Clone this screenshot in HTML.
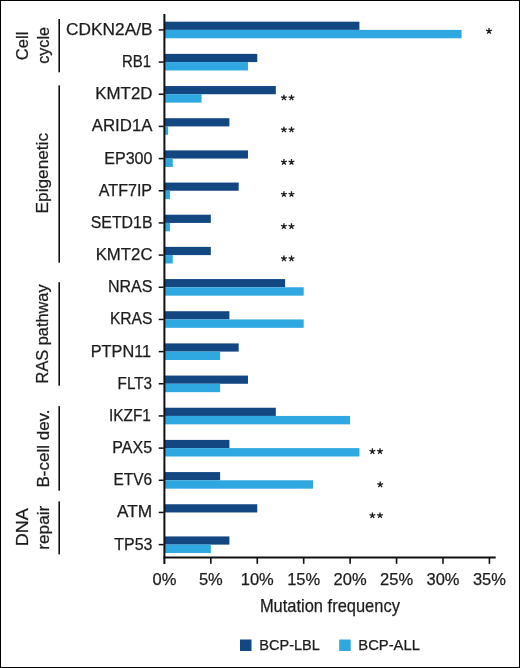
<!DOCTYPE html><html><head><meta charset="utf-8"><style>html,body{margin:0;padding:0;background:#fff;}svg{display:block;will-change:transform;}text{font-family:"Liberation Sans",sans-serif;fill:#1c1c1c;stroke:#1c1c1c;stroke-width:0.25px;}</style></head><body>
<svg width="520" height="668" viewBox="0 0 520 668">
<rect x="0" y="0" width="520" height="668" fill="#fff"/>
<rect x="164.40" y="21.70" width="195.01" height="8.20" fill="#134782"/>
<rect x="164.40" y="29.90" width="297.15" height="8.40" fill="#2fa8e1"/>
<rect x="164.40" y="53.87" width="92.86" height="8.20" fill="#134782"/>
<rect x="164.40" y="62.07" width="83.57" height="8.40" fill="#2fa8e1"/>
<rect x="164.40" y="86.04" width="111.43" height="8.20" fill="#134782"/>
<rect x="164.40" y="94.24" width="37.14" height="8.40" fill="#2fa8e1"/>
<rect x="164.40" y="118.21" width="65.00" height="8.20" fill="#134782"/>
<rect x="164.40" y="126.41" width="3.71" height="8.40" fill="#2fa8e1"/>
<rect x="164.40" y="150.38" width="83.57" height="8.20" fill="#134782"/>
<rect x="164.40" y="158.58" width="8.36" height="8.40" fill="#2fa8e1"/>
<rect x="164.40" y="182.55" width="74.29" height="8.20" fill="#134782"/>
<rect x="164.40" y="190.75" width="5.57" height="8.40" fill="#2fa8e1"/>
<rect x="164.40" y="214.72" width="46.43" height="8.20" fill="#134782"/>
<rect x="164.40" y="222.92" width="5.57" height="8.40" fill="#2fa8e1"/>
<rect x="164.40" y="246.89" width="46.43" height="8.20" fill="#134782"/>
<rect x="164.40" y="255.09" width="8.36" height="8.40" fill="#2fa8e1"/>
<rect x="164.40" y="279.06" width="120.72" height="8.20" fill="#134782"/>
<rect x="164.40" y="287.26" width="139.29" height="8.40" fill="#2fa8e1"/>
<rect x="164.40" y="311.23" width="65.00" height="8.20" fill="#134782"/>
<rect x="164.40" y="319.43" width="139.29" height="8.40" fill="#2fa8e1"/>
<rect x="164.40" y="343.40" width="74.29" height="8.20" fill="#134782"/>
<rect x="164.40" y="351.60" width="55.72" height="8.40" fill="#2fa8e1"/>
<rect x="164.40" y="375.57" width="83.57" height="8.20" fill="#134782"/>
<rect x="164.40" y="383.77" width="55.72" height="8.40" fill="#2fa8e1"/>
<rect x="164.40" y="407.74" width="111.43" height="8.20" fill="#134782"/>
<rect x="164.40" y="415.94" width="185.72" height="8.40" fill="#2fa8e1"/>
<rect x="164.40" y="439.91" width="65.00" height="8.20" fill="#134782"/>
<rect x="164.40" y="448.11" width="195.01" height="8.40" fill="#2fa8e1"/>
<rect x="164.40" y="472.08" width="55.72" height="8.20" fill="#134782"/>
<rect x="164.40" y="480.28" width="148.58" height="8.40" fill="#2fa8e1"/>
<rect x="164.40" y="504.25" width="92.86" height="8.20" fill="#134782"/>
<rect x="164.40" y="536.42" width="65.00" height="8.20" fill="#134782"/>
<rect x="164.40" y="544.62" width="46.43" height="8.40" fill="#2fa8e1"/>
<rect x="163.4" y="14" width="2" height="550" fill="#111111"/>
<rect x="163.4" y="556.5" width="332.3" height="2" fill="#111111"/>
<rect x="210.03" y="557" width="1.6" height="6.8" fill="#111111"/>
<rect x="256.46" y="557" width="1.6" height="6.8" fill="#111111"/>
<rect x="302.89" y="557" width="1.6" height="6.8" fill="#111111"/>
<rect x="349.32" y="557" width="1.6" height="6.8" fill="#111111"/>
<rect x="395.75" y="557" width="1.6" height="6.8" fill="#111111"/>
<rect x="442.18" y="557" width="1.6" height="6.8" fill="#111111"/>
<rect x="488.61" y="557" width="1.6" height="6.8" fill="#111111"/>
<rect x="158.7" y="29.15" width="5" height="1.5" fill="#111111"/>
<text x="152.50" y="34.90" font-size="16.3" text-anchor="end" textLength="86.40" lengthAdjust="spacingAndGlyphs">CDKN2A/B</text>
<rect x="158.7" y="61.32" width="5" height="1.5" fill="#111111"/>
<text x="151.10" y="67.07" font-size="16.3" text-anchor="end" textLength="29.10" lengthAdjust="spacingAndGlyphs">RB1</text>
<rect x="158.7" y="93.49" width="5" height="1.5" fill="#111111"/>
<text x="152.50" y="99.24" font-size="16.3" text-anchor="end" textLength="57.20" lengthAdjust="spacingAndGlyphs">KMT2D</text>
<rect x="158.7" y="125.66" width="5" height="1.5" fill="#111111"/>
<text x="152.50" y="131.41" font-size="16.3" text-anchor="end" textLength="60.80" lengthAdjust="spacingAndGlyphs">ARID1A</text>
<rect x="158.7" y="157.83" width="5" height="1.5" fill="#111111"/>
<text x="152.50" y="163.58" font-size="16.3" text-anchor="end" textLength="48.30" lengthAdjust="spacingAndGlyphs">EP300</text>
<rect x="158.7" y="190.00" width="5" height="1.5" fill="#111111"/>
<text x="152.10" y="195.75" font-size="16.3" text-anchor="end" textLength="53.30" lengthAdjust="spacingAndGlyphs">ATF7IP</text>
<rect x="158.7" y="222.17" width="5" height="1.5" fill="#111111"/>
<text x="152.50" y="227.92" font-size="16.3" text-anchor="end" textLength="61.80" lengthAdjust="spacingAndGlyphs">SETD1B</text>
<rect x="158.7" y="254.34" width="5" height="1.5" fill="#111111"/>
<text x="152.50" y="260.09" font-size="16.3" text-anchor="end" textLength="56.80" lengthAdjust="spacingAndGlyphs">KMT2C</text>
<rect x="158.7" y="286.51" width="5" height="1.5" fill="#111111"/>
<text x="152.50" y="292.26" font-size="16.3" text-anchor="end" textLength="44.60" lengthAdjust="spacingAndGlyphs">NRAS</text>
<rect x="158.7" y="318.68" width="5" height="1.5" fill="#111111"/>
<text x="152.50" y="324.43" font-size="16.3" text-anchor="end" textLength="42.60" lengthAdjust="spacingAndGlyphs">KRAS</text>
<rect x="158.7" y="350.85" width="5" height="1.5" fill="#111111"/>
<text x="151.10" y="356.60" font-size="16.3" text-anchor="end" textLength="60.40" lengthAdjust="spacingAndGlyphs">PTPN11</text>
<rect x="158.7" y="383.02" width="5" height="1.5" fill="#111111"/>
<text x="152.10" y="388.77" font-size="16.3" text-anchor="end" textLength="34.50" lengthAdjust="spacingAndGlyphs">FLT3</text>
<rect x="158.7" y="415.19" width="5" height="1.5" fill="#111111"/>
<text x="150.90" y="420.94" font-size="16.3" text-anchor="end" textLength="42.00" lengthAdjust="spacingAndGlyphs">IKZF1</text>
<rect x="158.7" y="447.36" width="5" height="1.5" fill="#111111"/>
<text x="152.10" y="453.11" font-size="16.3" text-anchor="end" textLength="39.80" lengthAdjust="spacingAndGlyphs">PAX5</text>
<rect x="158.7" y="479.53" width="5" height="1.5" fill="#111111"/>
<text x="152.10" y="485.28" font-size="16.3" text-anchor="end" textLength="38.60" lengthAdjust="spacingAndGlyphs">ETV6</text>
<rect x="158.7" y="511.70" width="5" height="1.5" fill="#111111"/>
<text x="152.10" y="517.45" font-size="16.3" text-anchor="end" textLength="35.10" lengthAdjust="spacingAndGlyphs">ATM</text>
<rect x="158.7" y="543.87" width="5" height="1.5" fill="#111111"/>
<text x="152.50" y="549.62" font-size="16.3" text-anchor="end" textLength="38.20" lengthAdjust="spacingAndGlyphs">TP53</text>
<path d="M489.00 31.10L489.00 28.05M489.00 31.10L491.90 30.16M489.00 31.10L490.79 33.57M489.00 31.10L487.21 33.57M489.00 31.10L486.10 30.16" stroke="#1c1c1c" stroke-width="1.3" stroke-linecap="butt" fill="none"/>
<path d="M283.90 97.74L283.90 94.69M283.90 97.74L286.80 96.80M283.90 97.74L285.69 100.21M283.90 97.74L282.11 100.21M283.90 97.74L281.00 96.80" stroke="#1c1c1c" stroke-width="1.3" stroke-linecap="butt" fill="none"/>
<path d="M291.50 97.74L291.50 94.69M291.50 97.74L294.40 96.80M291.50 97.74L293.29 100.21M291.50 97.74L289.71 100.21M291.50 97.74L288.60 96.80" stroke="#1c1c1c" stroke-width="1.3" stroke-linecap="butt" fill="none"/>
<path d="M283.90 129.71L283.90 126.66M283.90 129.71L286.80 128.77M283.90 129.71L285.69 132.18M283.90 129.71L282.11 132.18M283.90 129.71L281.00 128.77" stroke="#1c1c1c" stroke-width="1.3" stroke-linecap="butt" fill="none"/>
<path d="M291.50 129.71L291.50 126.66M291.50 129.71L294.40 128.77M291.50 129.71L293.29 132.18M291.50 129.71L289.71 132.18M291.50 129.71L288.60 128.77" stroke="#1c1c1c" stroke-width="1.3" stroke-linecap="butt" fill="none"/>
<path d="M283.90 162.08L283.90 159.03M283.90 162.08L286.80 161.14M283.90 162.08L285.69 164.55M283.90 162.08L282.11 164.55M283.90 162.08L281.00 161.14" stroke="#1c1c1c" stroke-width="1.3" stroke-linecap="butt" fill="none"/>
<path d="M291.50 162.08L291.50 159.03M291.50 162.08L294.40 161.14M291.50 162.08L293.29 164.55M291.50 162.08L289.71 164.55M291.50 162.08L288.60 161.14" stroke="#1c1c1c" stroke-width="1.3" stroke-linecap="butt" fill="none"/>
<path d="M283.90 194.25L283.90 191.20M283.90 194.25L286.80 193.31M283.90 194.25L285.69 196.72M283.90 194.25L282.11 196.72M283.90 194.25L281.00 193.31" stroke="#1c1c1c" stroke-width="1.3" stroke-linecap="butt" fill="none"/>
<path d="M291.50 194.25L291.50 191.20M291.50 194.25L294.40 193.31M291.50 194.25L293.29 196.72M291.50 194.25L289.71 196.72M291.50 194.25L288.60 193.31" stroke="#1c1c1c" stroke-width="1.3" stroke-linecap="butt" fill="none"/>
<path d="M283.90 226.42L283.90 223.37M283.90 226.42L286.80 225.48M283.90 226.42L285.69 228.89M283.90 226.42L282.11 228.89M283.90 226.42L281.00 225.48" stroke="#1c1c1c" stroke-width="1.3" stroke-linecap="butt" fill="none"/>
<path d="M291.50 226.42L291.50 223.37M291.50 226.42L294.40 225.48M291.50 226.42L293.29 228.89M291.50 226.42L289.71 228.89M291.50 226.42L288.60 225.48" stroke="#1c1c1c" stroke-width="1.3" stroke-linecap="butt" fill="none"/>
<path d="M283.90 258.59L283.90 255.54M283.90 258.59L286.80 257.65M283.90 258.59L285.69 261.06M283.90 258.59L282.11 261.06M283.90 258.59L281.00 257.65" stroke="#1c1c1c" stroke-width="1.3" stroke-linecap="butt" fill="none"/>
<path d="M291.50 258.59L291.50 255.54M291.50 258.59L294.40 257.65M291.50 258.59L293.29 261.06M291.50 258.59L289.71 261.06M291.50 258.59L288.60 257.65" stroke="#1c1c1c" stroke-width="1.3" stroke-linecap="butt" fill="none"/>
<path d="M372.40 451.41L372.40 448.36M372.40 451.41L375.30 450.47M372.40 451.41L374.19 453.88M372.40 451.41L370.61 453.88M372.40 451.41L369.50 450.47" stroke="#1c1c1c" stroke-width="1.3" stroke-linecap="butt" fill="none"/>
<path d="M380.00 451.41L380.00 448.36M380.00 451.41L382.90 450.47M380.00 451.41L381.79 453.88M380.00 451.41L378.21 453.88M380.00 451.41L377.10 450.47" stroke="#1c1c1c" stroke-width="1.3" stroke-linecap="butt" fill="none"/>
<path d="M380.20 484.58L380.20 481.53M380.20 484.58L383.10 483.64M380.20 484.58L381.99 487.05M380.20 484.58L378.41 487.05M380.20 484.58L377.30 483.64" stroke="#1c1c1c" stroke-width="1.3" stroke-linecap="butt" fill="none"/>
<path d="M372.40 515.45L372.40 512.40M372.40 515.45L375.30 514.51M372.40 515.45L374.19 517.92M372.40 515.45L370.61 517.92M372.40 515.45L369.50 514.51" stroke="#1c1c1c" stroke-width="1.3" stroke-linecap="butt" fill="none"/>
<path d="M380.00 515.45L380.00 512.40M380.00 515.45L382.90 514.51M380.00 515.45L381.79 517.92M380.00 515.45L378.21 517.92M380.00 515.45L377.10 514.51" stroke="#1c1c1c" stroke-width="1.3" stroke-linecap="butt" fill="none"/>
<text x="164.40" y="584.8" font-size="16.5" text-anchor="middle">0%</text>
<text x="210.83" y="584.8" font-size="16.5" text-anchor="middle">5%</text>
<text x="257.26" y="584.8" font-size="16.5" text-anchor="middle">10%</text>
<text x="303.69" y="584.8" font-size="16.5" text-anchor="middle">15%</text>
<text x="350.12" y="584.8" font-size="16.5" text-anchor="middle">20%</text>
<text x="396.55" y="584.8" font-size="16.5" text-anchor="middle">25%</text>
<text x="442.98" y="584.8" font-size="16.5" text-anchor="middle">30%</text>
<text x="489.41" y="584.8" font-size="16.5" text-anchor="middle">35%</text>
<text x="259.9" y="611.9" font-size="19" textLength="140" lengthAdjust="spacingAndGlyphs">Mutation frequency</text>
<rect x="240" y="639.5" width="11.5" height="11.5" fill="#134782"/>
<rect x="339.2" y="639.5" width="11.5" height="11.5" fill="#2fa8e1"/>
<text x="259.3" y="649.6" font-size="14.5" textLength="60.6" lengthAdjust="spacingAndGlyphs">BCP-LBL</text>
<text x="358.3" y="649.6" font-size="14.5" textLength="61.6" lengthAdjust="spacingAndGlyphs">BCP-ALL</text>
<rect x="58.4" y="19" width="1.6" height="53.30" fill="#111111"/>
<rect x="58.4" y="85.4" width="1.6" height="177.30" fill="#111111"/>
<rect x="58.4" y="282.2" width="1.6" height="103.50" fill="#111111"/>
<rect x="58.4" y="406.1" width="1.6" height="84.60" fill="#111111"/>
<rect x="58.4" y="501.4" width="1.6" height="52.90" fill="#111111"/>
<text transform="translate(28.0,45.9) rotate(-90)" x="0" y="0" font-size="16.3" text-anchor="middle" textLength="28.5" lengthAdjust="spacingAndGlyphs">Cell</text>
<text transform="translate(48.9,45.4) rotate(-90)" x="0" y="0" font-size="16.3" text-anchor="middle" textLength="36.9" lengthAdjust="spacingAndGlyphs">cycle</text>
<text transform="translate(48.1,173.2) rotate(-90)" x="0" y="0" font-size="16.3" text-anchor="middle" textLength="80.4" lengthAdjust="spacingAndGlyphs">Epigenetic</text>
<text transform="translate(48.4,333.9) rotate(-90)" x="0" y="0" font-size="16.3" text-anchor="middle" textLength="99.0" lengthAdjust="spacingAndGlyphs">RAS pathway</text>
<text transform="translate(48.6,448.5) rotate(-90)" x="0" y="0" font-size="16.3" text-anchor="middle" textLength="78.1" lengthAdjust="spacingAndGlyphs">B-cell dev.</text>
<text transform="translate(28.2,527.3) rotate(-90)" x="0" y="0" font-size="16.3" text-anchor="middle" textLength="38.1" lengthAdjust="spacingAndGlyphs">DNA</text>
<text transform="translate(49.0,527.7) rotate(-90)" x="0" y="0" font-size="16.3" text-anchor="middle" textLength="44.0" lengthAdjust="spacingAndGlyphs">repair</text>
<rect x="0.5" y="0.5" width="519" height="667" fill="none" stroke="#000" stroke-width="1"/>
</svg></body></html>
